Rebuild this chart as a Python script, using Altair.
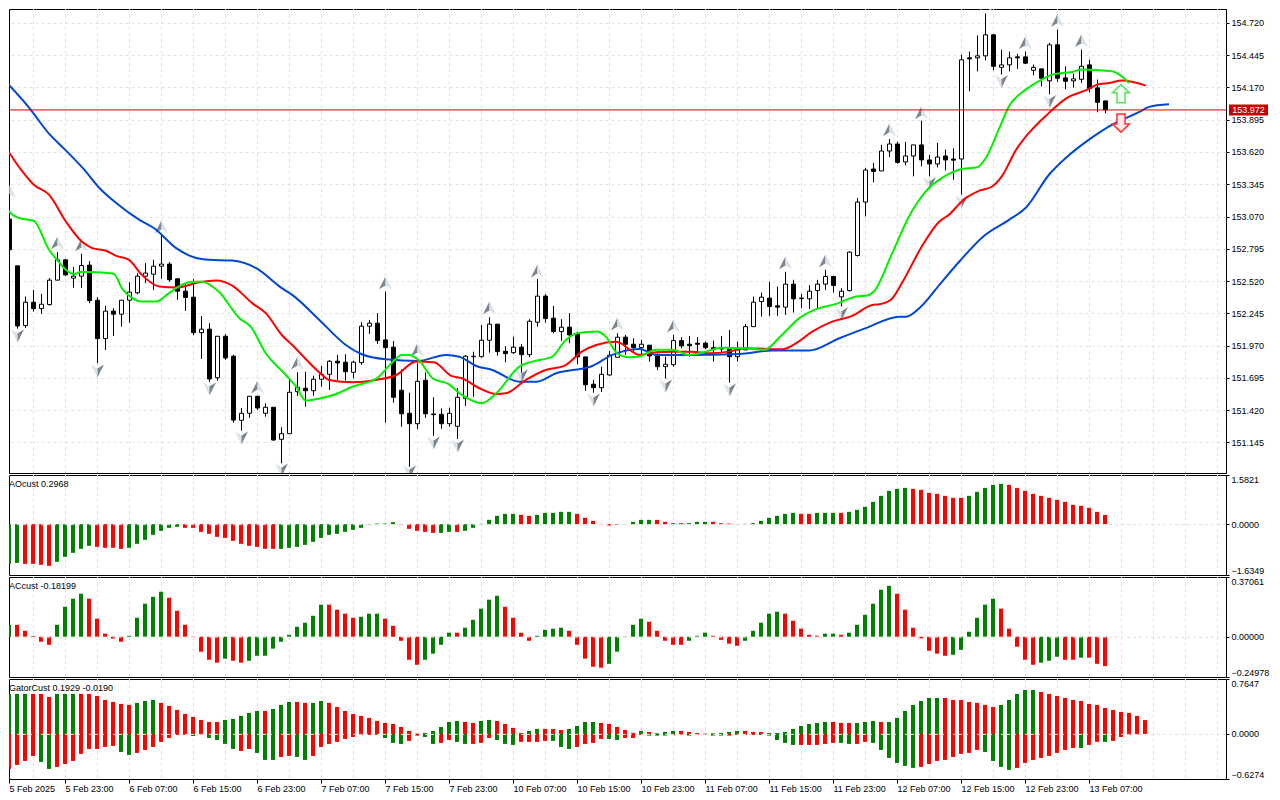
import json
import altair as alt
import pandas as pd

# ---------- candles (bar index = position in list) ----------
opens = [152.866,153.048,152.650,152.141,152.340,152.286,152.320,152.528,152.701,152.545,152.562,152.656,152.357,152.030,152.264,152.238,152.357,152.420,152.562,152.579,152.647,152.665,152.539,152.434,152.383,152.081,152.110,151.697,152.050,151.880,
151.334,151.394,151.539,151.394,151.445,151.172,151.220,151.578,151.607,151.586,151.684,151.726,151.837,151.829,151.743,151.825,152.136,152.161,152.019,151.957,151.590,151.394,151.305,151.675,151.382,151.385,151.305,151.283,151.521,151.876,
151.876,152.016,152.153,151.922,151.910,151.957,151.893,152.170,152.392,152.204,152.090,152.127,152.067,151.874,151.641,151.612,151.720,151.871,152.042,151.982,151.953,151.974,151.882,151.791,151.808,152.013,151.982,151.991,151.991,151.953,
151.953,151.939,151.876,151.934,152.132,152.346,152.375,152.309,152.298,152.494,152.371,152.369,152.439,152.494,152.559,152.386,152.439,152.738,153.193,153.475,153.458,153.628,153.688,153.535,153.586,153.680,153.552,153.518,153.586,153.560,
153.560,154.422,154.422,154.439,154.618,154.341,154.362,154.430,154.430,154.316,154.328,154.226,154.533,154.251,154.226,154.239,154.362,154.166,154.055]
highs = [153.050,153.213,152.650,152.388,152.445,152.411,152.545,152.767,152.710,152.641,152.752,152.690,152.383,152.309,152.289,152.357,152.511,152.588,152.673,152.701,152.914,152.682,152.545,152.502,152.537,152.223,152.161,152.050,152.067,151.891,
151.439,151.539,151.539,151.479,151.445,151.274,151.678,151.743,151.748,151.714,151.797,151.848,151.891,151.897,151.842,152.170,152.189,152.247,152.431,152.010,151.769,151.569,151.820,151.743,151.530,151.436,151.441,151.609,151.891,151.919,
152.147,152.212,152.153,151.965,152.047,151.982,152.195,152.537,152.409,152.309,152.195,152.247,152.090,151.874,151.678,151.791,151.925,152.076,152.061,152.033,152.019,151.974,151.919,151.876,152.061,152.042,152.053,152.042,152.004,152.013,
152.053,152.104,152.004,152.155,152.388,152.422,152.514,152.473,152.599,152.531,152.411,152.485,152.531,152.616,152.565,152.460,152.772,153.227,153.483,153.526,153.680,153.731,153.708,153.705,153.680,153.887,153.594,153.697,153.640,153.651,
154.450,154.475,154.612,154.800,154.626,154.492,154.475,154.456,154.475,154.365,154.328,154.550,154.663,154.350,154.288,154.492,154.405,154.237,154.055]
lows = [152.863,152.772,152.115,152.119,152.260,152.241,152.311,152.528,152.565,152.462,152.462,152.332,151.820,151.934,152.053,152.132,152.166,152.409,152.502,152.445,152.539,152.514,152.360,152.266,152.059,151.857,151.661,151.672,151.848,151.313,
151.245,151.356,151.422,151.365,151.160,150.967,151.220,151.541,151.450,151.544,151.620,151.592,151.678,151.672,151.692,151.806,152.070,151.985,151.313,151.484,151.279,150.938,151.260,151.356,151.202,151.262,151.279,151.174,151.456,151.535,
151.868,151.910,151.885,151.829,151.899,151.740,151.871,152.132,152.166,152.076,152.010,151.991,151.812,151.586,151.569,151.575,151.714,151.871,151.891,151.919,151.876,151.834,151.763,151.689,151.791,151.948,151.876,151.899,151.939,151.834,
151.905,151.655,151.834,151.934,152.132,152.218,152.223,152.223,152.232,152.252,152.289,152.283,152.289,152.445,152.422,152.303,152.431,152.729,153.071,153.361,153.458,153.577,153.520,153.506,153.412,153.497,153.412,153.489,153.463,153.384,
153.256,154.137,154.307,154.399,154.316,154.279,154.307,154.328,154.371,154.273,154.179,154.111,154.217,154.154,154.168,154.208,154.128,153.958,153.949]
closes = [153.048,152.787,152.138,152.340,152.286,152.323,152.528,152.701,152.573,152.562,152.653,152.354,152.030,152.264,152.238,152.357,152.426,152.562,152.588,152.647,152.665,152.531,152.434,152.380,152.081,152.110,151.686,152.050,151.865,151.336,
151.394,151.539,151.439,151.445,151.166,151.220,151.573,151.615,151.586,151.684,151.726,151.837,151.823,151.748,151.829,152.136,152.161,152.013,151.953,151.530,151.390,151.305,151.666,151.390,151.388,151.305,151.394,151.530,151.880,151.880,
152.016,152.153,151.919,151.902,151.957,151.893,152.178,152.392,152.201,152.090,152.127,152.061,151.874,151.637,151.612,151.726,151.888,152.042,151.982,151.953,151.982,151.882,151.791,151.811,152.013,151.968,151.970,151.982,151.953,151.939,
151.942,151.876,151.934,152.132,152.340,152.383,152.303,152.298,152.494,152.369,152.375,152.434,152.494,152.559,152.482,152.434,152.767,153.193,153.466,153.454,153.628,153.688,153.531,153.586,153.680,153.552,153.518,153.577,153.552,153.550,
154.405,154.413,154.439,154.618,154.350,154.362,154.422,154.422,154.376,154.341,154.248,154.533,154.248,154.222,154.243,154.350,154.162,154.043,153.978]

# ---------- alligator lines: bar index and price ----------
jaw_i = [0,3.5,6,8,10.4,12.3,14.4,17.3,19.1,21.9,24.4,26,28.9,31.9,35.1,36.4,39.8,43.1,45.1,48.1,52.2,55.6,57.3,59.4,61.4,64.8,66.9,69.4,73.9,76.4,79.8,81.9,86,92.3,96.4,101,104.8,108.1,112.3,113.1,115.1,117.3,119.8,122.9,126,128.1,131,133.1,136,138.9,142.3,143.5,146]
jaw_p = [154.262,153.998,153.776,153.640,153.469,153.313,153.185,153.042,152.972,152.801,152.716,152.701,152.695,152.630,152.460,152.403,152.189,151.976,151.897,151.854,151.840,151.891,151.876,151.797,151.763,151.663,151.663,151.735,151.797,151.891,151.942,151.891,151.891,151.899,151.928,151.928,152.033,152.119,152.217,152.217,152.309,152.488,152.687,152.906,153.042,153.145,153.426,153.569,153.725,153.853,153.961,154.004,154.026]
teeth_i = [0,2.5,4.1,6,8.1,10.1,11.4,13.1,14.4,16,17.6,19.8,21.9,24.8,26.9,28.9,31.4,33.1,35.1,36.4,39.8,41,43.9,46.9,49.4,51.9,54.1,56.3,57.6,59.8,61.9,63.1,65.6,68.1,70.4,72.6,74.4,76.9,79.8,81.9,83.9,86.4,88.5,91,93.1,97.6,99.4,101.4,103.9,106.4,108.9,109.8,111.3,112.6,115.1,117.3,118.5,120.1,122.3,123.9,125.1,126.9,128.3,131,133.1,136,137,138.5,140.1,143.1]
teeth_p = [153.725,153.469,153.341,153.256,153.028,152.857,152.801,152.778,152.735,152.701,152.573,152.473,152.465,152.511,152.525,152.482,152.332,152.247,152.061,151.976,151.742,151.678,151.658,151.678,151.720,151.834,151.829,151.712,151.692,151.607,151.558,151.564,151.678,151.763,151.797,151.919,151.976,152.004,151.891,151.914,151.919,151.919,151.905,151.919,151.948,151.939,151.991,152.090,152.175,152.223,152.317,152.323,152.366,152.502,152.815,153.028,153.085,153.199,153.290,153.326,153.412,153.640,153.767,153.953,154.075,154.157,154.194,154.208,154.228,154.185]
lips_i = [0,1,2.2,4.1,6,7,8.1,9.1,10.1,11.9,14.1,15.1,16.4,17.6,19.4,21,22.2,23.5,25,27.2,29.8,31.2,33.1,35.6,36.9,38.1,39.8,41.9,43.9,47,48.8,50.1,51,52.2,54.1,55.8,57.6,60.1,61.9,64.8,66.4,68.9,70.6,72,74.4,75.6,77,78.5,79.8,81.9,83.9,86,88.1,90.1,93.1,95.4,97.6,99.8,101.9,104.4,106.9,108.3,109.1,111.4,113.5,115.6,118.1,120.1,122,123.1,124.8,126,128.1,130.1,131.4,133.9,135.1,138.9,141]
lips_p = [153.230,153.113,153.057,153.034,152.787,152.701,152.616,152.579,152.599,152.596,152.582,152.460,152.375,152.346,152.346,152.417,152.473,152.511,152.516,152.431,152.204,152.132,151.905,151.720,151.620,151.501,151.520,151.558,151.620,151.692,151.820,151.891,151.891,151.848,151.684,151.649,151.550,151.479,151.564,151.791,151.834,151.876,152.019,152.076,152.090,152.047,151.905,151.871,151.878,151.934,151.934,151.891,151.919,151.953,151.948,151.934,152.061,152.204,152.281,152.326,152.388,152.397,152.431,152.758,153.071,153.284,153.418,153.475,153.489,153.569,153.825,154.009,154.151,154.237,154.279,154.302,154.322,154.307,154.208]

# ---------- fractal markers ----------
frac_up_i = [1,7,10,20,32,37,48,52,61,67,77,84,98,103,111,115,123,128,132,135]
frac_up_p = [153.284,152.846,152.829,152.983,151.618,151.823,152.505,151.934,152.292,152.607,152.155,152.138,152.676,152.693,153.810,153.955,154.876,154.552,154.740,154.569]
frac_dn_i = [2,12,26,30,35,51,54,57,65,74,83,91,105,116,120,125,131]
frac_dn_p = [152.053,151.754,151.601,151.183,150.910,150.893,151.140,151.115,151.712,151.507,151.626,151.592,152.241,153.349,153.196,154.220,154.049]

signal_i = [140]
signal_up_p = [154.117]
signal_dn_p = [153.866]
last_price = [153.978]
last_label = ["153.972"]

# ---------- oscillators ----------
ao_vals = [-1.329,-1.276,-1.244,-1.276,-1.276,-1.308,-1.340,-1.211,-1.051,-0.922,-0.793,-0.697,-0.729,-0.761,-0.761,-0.793,-0.761,-0.632,-0.504,-0.343,-0.214,-0.118,-0.086,-0.118,-0.118,-0.247,-0.311,-0.407,-0.440,-0.536,
-0.632,-0.697,-0.729,-0.793,-0.793,-0.793,-0.761,-0.729,-0.665,-0.568,-0.440,-0.343,-0.311,-0.247,-0.182,-0.118,-0.011,0.021,0.021,0.064,-0.011,-0.150,-0.214,-0.247,-0.279,-0.279,-0.247,-0.247,-0.214,-0.118,
0.011,0.139,0.268,0.332,0.332,0.300,0.268,0.300,0.364,0.364,0.397,0.397,0.332,0.204,0.107,-0.005,-0.043,-0.021,0.005,0.075,0.139,0.139,0.139,0.075,0.032,0.032,0.032,0.075,0.075,0.075,
0.032,0.021,-0.005,0.011,0.032,0.107,0.204,0.268,0.332,0.364,0.332,0.332,0.364,0.364,0.364,0.364,0.397,0.461,0.557,0.718,0.911,1.072,1.136,1.168,1.136,1.104,1.008,0.975,0.911,0.847,
0.847,0.911,1.040,1.168,1.265,1.297,1.265,1.168,1.072,0.975,0.911,0.847,0.783,0.718,0.622,0.590,0.525,0.397,0.297]
ao_runs = [(3,"G"),(4,"R"),(5,"G"),(4,"R"),(7,"G"),(12,"R"),(15,"G"),(5,"R"),(2,"G"),(1,"R"),(7,"G"),(2,"R"),(5,"G"),(6,"R"),(4,"G"),(4,"R"),(3,"G"),(4,"R"),(7,"G"),(2,"R"),(3,"G"),(1,"R"),(8,"G"),(7,"R"),(5,"G"),(13,"R")]

ac_vals = [-0.010,0.074,0.074,0.037,0.004,-0.031,-0.050,0.074,0.186,0.236,0.267,0.236,0.112,0.019,-0.012,-0.031,0.006,0.118,0.205,0.248,0.279,0.242,0.161,0.074,-0.002,-0.093,-0.143,-0.161,-0.136,-0.149,
-0.161,-0.149,-0.118,-0.118,-0.074,-0.031,0.012,0.062,0.087,0.130,0.199,0.199,0.168,0.143,0.118,0.124,0.143,0.143,0.112,0.068,-0.025,-0.143,-0.174,-0.143,-0.105,-0.050,0.025,0.025,0.056,0.105,
0.174,0.230,0.254,0.186,0.118,0.025,-0.025,0.006,0.043,0.050,0.056,0.037,-0.050,-0.136,-0.186,-0.192,-0.168,-0.093,-0.002,0.074,0.112,0.093,0.037,-0.025,-0.050,-0.050,-0.025,0.006,0.025,0.006,
-0.019,-0.043,-0.056,-0.025,0.037,0.087,0.143,0.155,0.143,0.099,0.050,0.012,0.006,0.019,0.019,0.012,0.025,0.074,0.136,0.205,0.292,0.316,0.267,0.168,0.056,-0.010,-0.087,-0.105,-0.118,-0.112,
-0.081,0.031,0.118,0.199,0.236,0.174,0.050,-0.062,-0.143,-0.174,-0.161,-0.149,-0.124,-0.143,-0.143,-0.130,-0.130,-0.168,-0.182]
ac_runs = [(2,"G"),(5,"R"),(4,"G"),(5,"R"),(5,"G"),(7,"R"),(1,"G"),(2,"R"),(10,"G"),(4,"R"),(3,"G"),(5,"R"),(4,"G"),(1,"R"),(5,"G"),(4,"R"),(4,"G"),(5,"R"),(5,"G"),(5,"R"),(3,"G"),(4,"R"),(5,"G"),(5,"R"),(2,"G"),(1,"R"),(6,"G"),(7,"R"),(6,"G"),(5,"R"),(3,"G"),(2,"R"),(1,"G"),(3,"R")]

gator_up = [0.529,0.557,0.557,0.557,0.557,0.557,0.515,0.557,0.557,0.557,0.557,0.557,0.529,0.473,0.445,0.418,0.404,0.432,0.459,0.473,0.432,0.390,0.334,0.278,0.237,0.195,0.167,0.167,0.195,0.209,
0.251,0.292,0.320,0.320,0.348,0.404,0.445,0.445,0.432,0.432,0.459,0.432,0.376,0.320,0.278,0.251,0.223,0.181,0.153,0.139,0.097,0.042,0.005,0.014,0.042,0.097,0.167,0.181,0.167,0.153,
0.181,0.195,0.181,0.139,0.084,0.014,0.042,0.070,0.070,0.070,0.056,0.070,0.111,0.167,0.167,0.153,0.139,0.097,0.056,0.014,0.042,0.028,0.009,0.028,0.042,0.042,0.028,0.014,0.005,0.009,
0.014,0.028,0.042,0.042,0.028,0.028,0.014,0.014,0.028,0.070,0.111,0.139,0.153,0.167,0.167,0.153,0.153,0.153,0.167,0.181,0.167,0.167,0.223,0.320,0.404,0.459,0.501,0.501,0.501,0.473,
0.473,0.445,0.432,0.404,0.376,0.404,0.473,0.557,0.612,0.612,0.585,0.557,0.529,0.501,0.473,0.459,0.418,0.404,0.362,0.334,0.306,0.292,0.251,0.193]
gator_up_runs = [(4,"G"),(3,"R"),(3,"G"),(7,"R"),(3,"G"),(8,"R"),(5,"G"),(1,"R"),(3,"G"),(2,"R"),(2,"G"),(12,"R"),(5,"G"),(2,"R"),(2,"G"),(4,"R"),(2,"G"),(3,"R"),(4,"G"),(5,"R"),(1,"G"),(1,"R"),(3,"G"),(3,"R"),(5,"G"),(5,"R"),(6,"G"),(3,"R"),(3,"G"),(1,"R"),(7,"G"),(7,"R"),(5,"G"),(14,"R")]
gator_dn = [-0.501,-0.487,-0.432,-0.376,-0.306,-0.390,-0.487,-0.459,-0.418,-0.376,-0.278,-0.209,-0.209,-0.181,-0.167,-0.251,-0.292,-0.264,-0.223,-0.181,-0.111,-0.056,-0.014,-0.014,-0.028,-0.005,-0.056,-0.084,-0.139,-0.209,
-0.237,-0.209,-0.264,-0.362,-0.362,-0.320,-0.306,-0.320,-0.362,-0.306,-0.181,-0.139,-0.111,-0.070,-0.042,-0.014,-0.014,-0.014,-0.056,-0.125,-0.139,-0.097,-0.023,-0.042,-0.139,-0.125,-0.084,-0.111,-0.139,-0.139,
-0.125,-0.056,-0.084,-0.139,-0.153,-0.111,-0.111,-0.111,-0.097,-0.097,-0.181,-0.209,-0.181,-0.139,-0.125,-0.070,-0.070,-0.084,-0.056,-0.056,-0.014,-0.023,-0.023,-0.023,-0.014,-0.009,-0.023,-0.009,-0.005,-0.023,
-0.023,-0.023,-0.014,-0.014,-0.014,-0.014,-0.023,-0.084,-0.125,-0.153,-0.153,-0.153,-0.153,-0.139,-0.125,-0.125,-0.139,-0.139,-0.111,-0.125,-0.223,-0.334,-0.404,-0.445,-0.473,-0.459,-0.418,-0.376,-0.362,-0.320,
-0.278,-0.264,-0.223,-0.251,-0.376,-0.459,-0.501,-0.473,-0.404,-0.362,-0.334,-0.306,-0.264,-0.223,-0.195,-0.195,-0.153,-0.111,-0.111,-0.097,-0.042,-0.014,-0.005,-0.001]
gator_dn_runs = [(5,"R"),(2,"G"),(8,"R"),(2,"G"),(7,"R"),(1,"G"),(1,"R"),(4,"G"),(2,"R"),(3,"G"),(2,"R"),(2,"G"),(8,"R"),(4,"G"),(2,"R"),(2,"G"),(2,"R"),(2,"G"),(3,"R"),(3,"G"),(4,"R"),(3,"G"),(4,"R"),(2,"G"),(3,"R"),(3,"G"),(2,"R"),(1,"G"),(2,"R"),(2,"G"),(4,"R"),(5,"G"),(5,"R"),(2,"G"),(2,"R"),(6,"G"),(8,"R"),(4,"G"),(8,"R"),(1,"G"),(2,"R"),(1,"G"),(5,"R")]

# ---------- axis texts ----------
price_ticks = [154.720,154.445,154.170,153.895,153.620,153.345,153.070,152.795,152.520,152.245,151.970,151.695,151.420,151.145]
ao_ticks = [1.5821,0.0,-1.6349]
ac_ticks = [0.37061,0.0,-0.24978]
gator_ticks = [0.7647,0.0,-0.6274]
time_labels = ["5 Feb 2025","5 Feb 23:00","6 Feb 07:00","6 Feb 15:00","6 Feb 23:00","7 Feb 07:00","7 Feb 15:00","7 Feb 23:00","10 Feb 07:00","10 Feb 15:00","10 Feb 23:00","11 Feb 07:00","11 Feb 15:00","11 Feb 23:00","12 Feb 07:00","12 Feb 15:00","12 Feb 23:00","13 Feb 07:00"]
time_ticks = [1] + [8*k for k in range(1, 18)]
grid_idx = list(range(4, 153, 4))

FONT = "Liberation Sans"
FS = 9
GRID = "#e2e2e2"
DASH = [3, 3]
GREEN = "#008000"
RED = "#ff0000"
W = 1217

x_scale = alt.Scale(domain=[1, 153.125], nice=False, zero=False, padding=0)
color_scale = alt.Scale(domain=["G", "R"], range=[GREEN, RED])


def expand(runs):
    return [c for n, c in runs for _ in range(n)]


def X(axis=None):
    return alt.X("i:Q", scale=x_scale, axis=axis, title=None)


def y_axis(values, fmt, grid=False):
    return alt.Axis(values=values, format=fmt, orient="right", title=None, grid=grid, gridColor=GRID,
                    gridDash=DASH, domain=False, tickSize=3, tickColor="black", labelColor="black",
                    labelFont=FONT, labelFontSize=FS, labelPadding=2, labelFlush=True, labelOverlap=False)


grid_df = pd.DataFrame({"i": grid_idx})


def vgrid(xaxis=None):
    return alt.Chart(grid_df).mark_rule(color=GRID, strokeDash=DASH, strokeWidth=1, xOffset=0.5).encode(x=X(xaxis))


def hist_panel(series, domain, ticks, fmt, title, height, xaxis=None):
    yscale = alt.Scale(domain=domain, nice=False, zero=False)
    yax = y_axis(ticks, fmt)
    layers = [vgrid(xaxis)]
    for vals, runs in series:
        df = pd.DataFrame({"i": range(len(vals)), "v": vals, "z": 0.0, "col": expand(runs)})
        layers.append(alt.Chart(df).mark_bar(size=4, clip=True).encode(
            x=X(xaxis),
            y=alt.Y("v:Q", scale=yscale, axis=yax, title=None),
            y2="z:Q",
            color=alt.Color("col:N", scale=color_scale, legend=None)))
    zero = pd.DataFrame({"v": [0.0]})
    layers.append(alt.Chart(zero).mark_rule(color=GRID, strokeDash=DASH, strokeWidth=1, yOffset=0.5).encode(
        y=alt.Y("v:Q", scale=yscale, axis=yax, title=None)))
    layers.append(alt.Chart(pd.DataFrame({"t": [title]})).mark_text(
        align="left", baseline="middle", font=FONT, fontSize=FS, color="black").encode(
        x=alt.value(0), y=alt.value(9), text="t:N"))
    return alt.layer(*layers).properties(width=W, height=height)


# ---------- main panel ----------
y_main = alt.Scale(domain=[150.885, 154.838], nice=False, zero=False)
MAIN_AXIS = y_axis(price_ticks, ".3f", grid=True)


def Yp(field="p"):
    return alt.Y(f"{field}:Q", scale=y_main, axis=MAIN_AXIS, title=None)


candles = pd.DataFrame({"i": range(len(opens)), "o": opens, "h": highs, "l": lows, "c": closes})
wicks = alt.Chart(candles).mark_rule(color="black", strokeWidth=1, xOffset=0.5, clip=True).encode(
    x=X(), y=Yp("l"), y2="h:Q")
bodies = alt.Chart(candles).mark_bar(size=4, stroke="black", strokeWidth=1, xOffset=0.5, clip=True).encode(
    x=X(), y=Yp("o"), y2="c:Q",
    fill=alt.condition("datum.c >= datum.o", alt.value("white"), alt.value("black")))


def ma(xs, ps, color):
    return alt.Chart(pd.DataFrame({"i": xs, "p": ps})).mark_line(
        color=color, strokeWidth=2, clip=True, interpolate="monotone").encode(x=X(), y=Yp())


def frac(xs, ps, path, color):
    return alt.Chart(pd.DataFrame({"i": xs, "p": ps})).mark_point(
        shape=path, size=170, filled=True, color=color, opacity=1, xOffset=0.5, clip=True).encode(x=X(), y=Yp())


UP_L = "M0,-1 L-1,1 L0,0.4 Z"
UP_R = "M0,-1 L1,1 L0,0.4 Z"
DN_L = "M0,1 L-1,-1 L0,-0.4 Z"
DN_R = "M0,1 L1,-1 L0,-0.4 Z"
ARROW_UP = "M0,-1 L0.95,-0.1 L0.45,-0.1 L0.45,1 L-0.45,1 L-0.45,-0.1 L-0.95,-0.1 Z"
ARROW_DN = "M0,1 L0.95,0.1 L0.45,0.1 L0.45,-1 L-0.45,-1 L-0.45,0.1 L-0.95,0.1 Z"

sig_up = alt.Chart(pd.DataFrame({"i": signal_i, "p": signal_up_p})).mark_point(
    shape=ARROW_UP, size=324, filled=True, fill="#f2fff2", stroke="#5ee05e", strokeWidth=1.5, opacity=1, clip=True
).encode(x=X(), y=Yp())
sig_dn = alt.Chart(pd.DataFrame({"i": signal_i, "p": signal_dn_p})).mark_point(
    shape=ARROW_DN, size=324, filled=True, fill="#ffe8ee", stroke="#ff3030", strokeWidth=1.5, opacity=1, clip=True
).encode(x=X(), y=Yp())

last_df = pd.DataFrame({"p": last_price, "t": last_label})
last_line = alt.Chart(last_df).mark_rule(color="#d40000", strokeWidth=1).encode(y=Yp())
last_box = alt.Chart(last_df).mark_rule(color="#c40000", strokeWidth=11, strokeCap="square").encode(
    x=alt.value(W + 8.5), x2=alt.value(W + 36.5), y=Yp())
last_txt = alt.Chart(last_df).mark_text(font=FONT, fontSize=FS, color="white", align="center", baseline="middle").encode(
    x=alt.value(W + 22.5), y=Yp(), text="t:N")

main = alt.layer(
    vgrid(), wicks, bodies,
    frac(frac_up_i, frac_up_p, UP_L, "#7d858e"), frac(frac_up_i, frac_up_p, UP_R, "#dde2e8"),
    frac(frac_dn_i, frac_dn_p, DN_L, "#dde2e8"), frac(frac_dn_i, frac_dn_p, DN_R, "#7d858e"),
    ma(jaw_i, jaw_p, "#0048d0"), ma(teeth_i, teeth_p, "#ff0000"), ma(lips_i, lips_p, "#00f000"),
    sig_up, sig_dn, last_line, last_box, last_txt,
).properties(width=W, height=464)

time_axis = alt.Axis(values=time_ticks, labelExpr=json.dumps(time_labels) + "[round(datum.value/8)]",
                     grid=False, domain=False, tickSize=4, tickColor="black", labelColor="black",
                     labelFont=FONT, labelFontSize=FS, labelAlign="left", labelPadding=1,
                     labelOverlap=False, labelFlush=False, labelBound=False, title=None)

ao_panel = hist_panel([(ao_vals, ao_runs)], [-1.6349, 1.5821], ao_ticks, ".4f", "AOcust 0.2968", 100)
ac_panel = hist_panel([(ac_vals, ac_runs)], [-0.24978, 0.37061], ac_ticks, ".5f", "ACcust -0.18199", 100)
gator_panel = hist_panel([(gator_up, gator_up_runs), (gator_dn, gator_dn_runs)], [-0.6274, 0.7647],
                         gator_ticks, ".4f", "GatorCust 0.1929 -0.0190", 100, xaxis=time_axis)

chart = alt.vconcat(main, ao_panel, ac_panel, gator_panel).properties(
    spacing=2, bounds="flush", padding=0, background="white"
).configure_view(stroke="black", strokeWidth=1)

chart.save("out.html", embed_options={"renderer": "svg", "actions": False})
